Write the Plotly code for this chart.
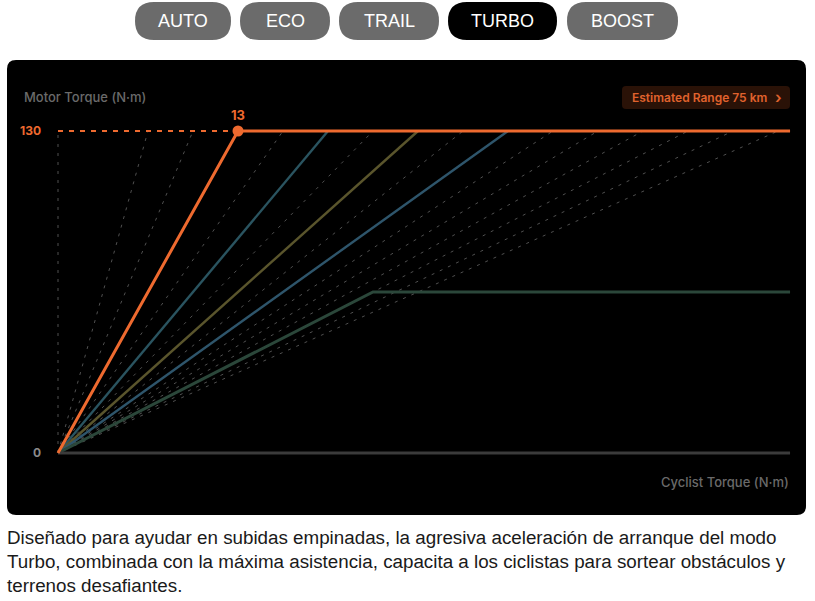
import plotly.graph_objects as go

W, H = 815, 601

# ---------------- data ----------------
modes = ["AUTO", "ECO", "TRAIL", "TURBO", "BOOST"]
active_mode = "TURBO"

max_motor_torque = 130
axis_end_cyclist = 52.87
# reference (dashed) assist lines: cyclist torque at which each reaches 130 N·m
ref_line_ends = [0, 6.5, 9.75, 13, 16.25, 19.5, 22.75, 26, 29.25, 32.5, 35.75,
                 39, 42.25, 45.5, 48.75, 52]
# other modes (faded) : corner points (cyclist torque, motor torque)
other_cyclist = [19.5, 26, 32.5, 22.75]
other_motor = [130, 130, 130, 65]
other_colors = ["#2a5460", "#5a552c", "#2e556b", "#2b473a"]
# active mode
turbo_corner_cyclist = 13
turbo_corner_motor = 130
y_ticks = [0, 130]
range_label = "Estimated Range 75 km"
description = ["Diseñado para ayudar en subidas empinadas, la agresiva aceleración de arranque del modo",
               "Turbo, combinada con la máxima asistencia, capacita a los ciclistas para sortear obstáculos y",
               "terrenos desafiantes."]

ORANGE = "#ee6a2f"

# ---------------- pixel helpers ----------------
def px(x):
    return x / W

def py(y):
    return 1 - y / H

# plot area mapping: x 0 -> 58px, 13 -> 238px ; y 0 -> 453px, 130 -> 131px
x0px, xsc = 58.0, (238 - 58) / 13.0
y0px, ysc = 453.0, (453 - 131) / 130.0
xr = [-1.0, 54.0]
yr = [-6.0, 136.0]
xdom = [px(x0px + xr[0] * xsc), px(x0px + xr[1] * xsc)]
ydom = [py(y0px - yr[0] * ysc), py(y0px - yr[1] * ysc)]

fig = go.Figure()

# dashed reference fan
for xe in ref_line_ends:
    fig.add_trace(go.Scatter(x=[0, xe], y=[0, max_motor_torque], mode="lines",
                             line=dict(color="#505050", width=1, dash="3px,6px"),
                             hoverinfo="skip", showlegend=False))

# other modes
for cx, cy, col in zip(other_cyclist, other_motor, other_colors):
    xs = [0, cx] if cy >= max_motor_torque else [0, cx, axis_end_cyclist]
    ys = [0, cy] if cy >= max_motor_torque else [0, cy, cy]
    fig.add_trace(go.Scatter(x=xs, y=ys, mode="lines",
                             line=dict(color=col, width=2.4 if cy >= max_motor_torque else 3),
                             hoverinfo="skip", showlegend=False))

# x axis baseline
fig.add_trace(go.Scatter(x=[0, axis_end_cyclist], y=[0, 0], mode="lines",
                         line=dict(color="#3b3b3b", width=3),
                         hoverinfo="skip", showlegend=False))

# orange dashed guide at max torque
fig.add_trace(go.Scatter(x=[0, turbo_corner_cyclist], y=[turbo_corner_motor] * 2, mode="lines",
                         line=dict(color=ORANGE, width=2, dash="5px,6px"),
                         hoverinfo="skip", showlegend=False))

# turbo curve
fig.add_trace(go.Scatter(x=[0, turbo_corner_cyclist, axis_end_cyclist],
                         y=[0, turbo_corner_motor, turbo_corner_motor], mode="lines",
                         line=dict(color=ORANGE, width=3),
                         hoverinfo="skip", showlegend=False))

# corner marker + label
fig.add_trace(go.Scatter(x=[turbo_corner_cyclist], y=[turbo_corner_motor], mode="markers+text",
                         marker=dict(color=ORANGE, size=11),
                         text=[str(turbo_corner_cyclist)], textposition="top center",
                         textfont=dict(color=ORANGE, size=13, family="Inter", weight=700),
                         cliponaxis=False, hoverinfo="skip", showlegend=False))

shapes = []
annotations = []

def rrect(x0, y0, x1, y1, r, fill, layer="below"):
    path = (f"M {px(x0 + r)} {py(y0)} L {px(x1 - r)} {py(y0)} "
            f"Q {px(x1)} {py(y0)} {px(x1)} {py(y0 + r)} "
            f"L {px(x1)} {py(y1 - r)} Q {px(x1)} {py(y1)} {px(x1 - r)} {py(y1)} "
            f"L {px(x0 + r)} {py(y1)} Q {px(x0)} {py(y1)} {px(x0)} {py(y1 - r)} "
            f"L {px(x0)} {py(y0 + r)} Q {px(x0)} {py(y0)} {px(x0 + r)} {py(y0)} Z")
    shapes.append(dict(type="path", path=path, xref="paper", yref="paper",
                       fillcolor=fill, line=dict(width=0), layer=layer))

# chart panel
rrect(7, 60, 806, 515, 9, "#000000")

# mode pills
pill_x = [(135, 231), (240, 330), (339, 439), (448, 557), (567, 678)]
for m, (a, b) in zip(modes, pill_x):
    rrect(a, 2, b, 40, 19, "#000000" if m == active_mode else "#6b6b6b")
    annotations.append(dict(x=px((a + b) / 2), y=py(21), xref="paper", yref="paper",
                            text=m, showarrow=False, xanchor="center", yanchor="middle",
                            font=dict(color="white", size=18, family="Liberation Sans, Arial")))

# estimated range button
rrect(622, 86, 790, 109, 4, "#2a1207", layer="above")
annotations.append(dict(x=px(630), y=py(97.5), xref="paper", yref="paper",
                        text=range_label, showarrow=False, xanchor="left", yanchor="middle",
                        font=dict(color="#e0622d", size=12, family="Inter", weight=600)))
annotations.append(dict(x=px(778), y=py(97.5), xref="paper", yref="paper",
                        text="›", showarrow=False, xanchor="center", yanchor="middle",
                        font=dict(color="#e0622d", size=16, family="Inter", weight=600)))

# axis titles
annotations.append(dict(x=px(22), y=py(97), xref="paper", yref="paper",
                        text="Motor Torque (N·m)", showarrow=False, xanchor="left", yanchor="middle",
                        font=dict(color="#6a6a6a", size=13, family="Inter", weight=500)))
annotations.append(dict(x=px(791), y=py(482), xref="paper", yref="paper",
                        text="Cyclist Torque (N·m)", showarrow=False, xanchor="right", yanchor="middle",
                        font=dict(color="#6a6a6a", size=13, family="Inter", weight=500)))

# y tick labels
for v in y_ticks:
    is_max = v == max_motor_torque
    annotations.append(dict(x=0, y=v, xref="x", yref="y", xshift=-15,
                            text=str(v), showarrow=False, xanchor="right", yanchor="middle",
                            font=dict(color=ORANGE if is_max else "#8a8a8a", size=12,
                                      family="Inter", weight=700)))

# description
for i, line in enumerate(description):
    annotations.append(dict(x=px(5), y=py(537 + i * 24), xref="paper", yref="paper",
                            text=line, showarrow=False, xanchor="left", yanchor="middle",
                            font=dict(color="#1a1a1a", size=18.8, family="Liberation Sans, Arial")))

fig.update_layout(
    width=W, height=H, autosize=False,
    margin=dict(l=0, r=0, t=0, b=0, pad=0),
    paper_bgcolor="white", plot_bgcolor="rgba(0,0,0,0)",
    xaxis=dict(domain=xdom, range=xr, visible=False, fixedrange=True),
    yaxis=dict(domain=ydom, range=yr, visible=False, fixedrange=True),
    shapes=shapes, annotations=annotations, showlegend=False,
)

fig.write_html("out.html", config={"displayModeBar": False})
